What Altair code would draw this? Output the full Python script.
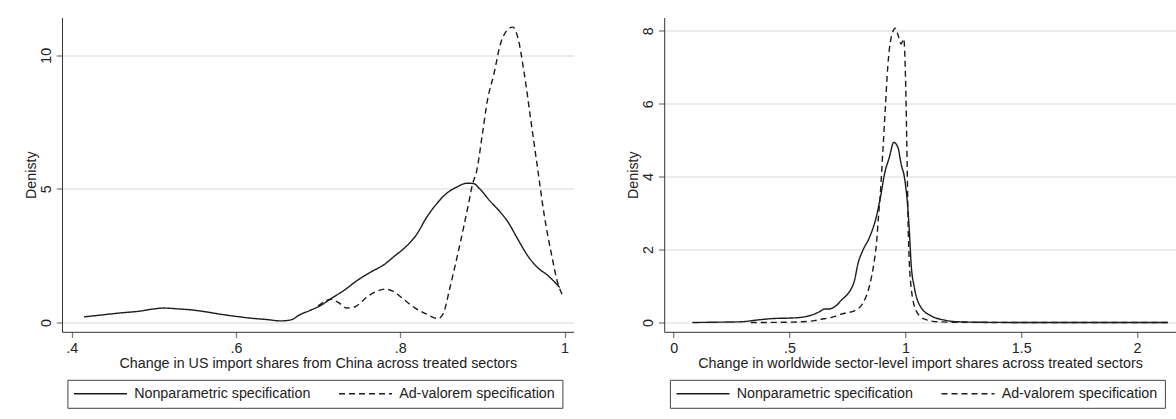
import altair as alt
import pandas as pd

SPECS = ["Nonparametric specification", "Ad-valorem specification"]
Y_TITLE = "Denisty"

# ---- Left panel: change in US import shares from China ----
us_np_x = [0.415, 0.439, 0.460, 0.484, 0.496, 0.512, 0.529, 0.549, 0.561, 0.581,
           0.602, 0.622, 0.638, 0.654, 0.667, 0.677, 0.690, 0.702, 0.718, 0.731,
           0.747, 0.763, 0.781, 0.792, 0.808, 0.820, 0.832, 0.844, 0.856, 0.869,
           0.881, 0.889, 0.897, 0.909, 0.922, 0.930, 0.943, 0.955, 0.967, 0.980, 0.994]
us_np_y = [0.21, 0.29, 0.36, 0.43, 0.49, 0.54, 0.51, 0.46, 0.41, 0.31,
           0.22, 0.15, 0.11, 0.06, 0.10, 0.28, 0.45, 0.62, 0.94, 1.19,
           1.56, 1.87, 2.18, 2.46, 2.87, 3.30, 3.93, 4.43, 4.82, 5.07,
           5.21, 5.20, 4.99, 4.55, 4.12, 3.81, 3.12, 2.50, 2.06, 1.75, 1.31]
us_av_x = [0.700, 0.7165, 0.7245, 0.735, 0.745, 0.759, 0.771, 0.781, 0.7915, 0.804,
           0.818, 0.832, 0.846, 0.852, 0.8605, 0.869, 0.877, 0.883, 0.888, 0.893,
           0.900, 0.906, 0.914, 0.922, 0.930, 0.937, 0.943, 0.951, 0.959, 0.967,
           0.975, 0.984, 0.992, 0.998]
us_av_y = [0.62, 0.87, 0.75, 0.54, 0.59, 0.94, 1.16, 1.25, 1.16, 0.87,
           0.54, 0.31, 0.15, 0.31, 1.31, 2.43, 3.55, 4.43, 5.18, 5.67,
           7.06, 8.30, 9.30, 10.43, 10.93, 11.05, 10.67, 9.30, 7.55, 5.80,
           4.06, 2.56, 1.44, 1.00]
us_x_ticks = [0.4, 0.6, 0.8, 1.0]
us_y_ticks = [0, 5, 10]
us_x_title = "Change in US import shares from China across treated sectors"

# ---- Right panel: change in worldwide sector-level import shares ----
ww_np_x = [0.081, 0.20, 0.29, 0.362, 0.434, 0.492, 0.549, 0.593, 0.607, 0.636,
           0.650, 0.672, 0.686, 0.708, 0.722, 0.751, 0.766, 0.780, 0.795, 0.816,
           0.845, 0.874, 0.895, 0.910, 0.931, 0.950, 0.968, 0.982, 0.996, 1.008,
           1.018, 1.025, 1.039, 1.068, 1.112, 1.169, 1.227, 1.35, 1.6, 1.9, 2.133]
ww_np_y = [0.0, 0.01, 0.02, 0.07, 0.11, 0.12, 0.14, 0.20, 0.23, 0.32,
           0.37, 0.37, 0.40, 0.50, 0.60, 0.78, 0.92, 1.14, 1.60, 1.97,
           2.33, 2.88, 3.52, 4.07, 4.53, 4.94, 4.80, 4.34, 3.98, 3.34,
           2.43, 1.60, 0.96, 0.41, 0.18, 0.066, 0.02, 0.005, 0.0, 0.0, 0.0]
ww_av_x = [0.333, 0.45, 0.549, 0.578, 0.607, 0.636, 0.665, 0.693, 0.722, 0.750,
           0.780, 0.816, 0.845, 0.866, 0.876, 0.884, 0.892, 0.903, 0.913, 0.924,
           0.939, 0.957, 0.970, 0.982, 0.993, 1.003, 1.008, 1.013, 1.025, 1.047,
           1.083, 1.141, 1.25, 1.5, 1.8, 2.133]
ww_av_y = [0.0, 0.005, 0.02, 0.03, 0.05, 0.09, 0.12, 0.16, 0.23, 0.27,
           0.32, 0.52, 1.0, 1.69, 2.2, 2.9, 3.52, 4.71, 5.81, 7.0,
           7.82, 8.07, 7.85, 7.64, 7.78, 6.08, 4.25, 2.43, 0.96, 0.32,
           0.09, 0.02, 0.005, 0.0, 0.0, 0.0]
ww_x_ticks = [0, 0.5, 1, 1.5, 2]
ww_y_ticks = [0, 2, 4, 6, 8]
ww_x_title = "Change in worldwide sector-level import shares across treated sectors"

W = 511.7
H = 314.3
FONT = "Liberation Sans"
FS = 14.3
LABEL_EXPR = "replace(format(datum.value, '~g'), '0.', '.')"
# legend line sample: custom path, 53 px long at symbolSize 100 (scale 5)
SAMPLE_PATH = "M-5.3,0H5.3"


def panel(np_x, np_y, av_x, av_y, xdom, ydom, xticks, yticks, xtitle, legx, anchor=False):
    df = pd.DataFrame({
        "x": np_x + av_x,
        "y": np_y + av_y,
        "spec": [SPECS[0]] * len(np_x) + [SPECS[1]] * len(av_x),
    })
    lines = alt.Chart(df).mark_line(strokeWidth=1.4, interpolate="monotone",
                                    color="#1c1c1c").encode(
        x=alt.X("x:Q",
                scale=alt.Scale(domain=xdom, nice=False, zero=False),
                axis=alt.Axis(values=xticks, title=xtitle, labelExpr=LABEL_EXPR,
                              grid=False, domainColor="#333333", domainWidth=1,
                              tickColor="#808080", tickWidth=1.3, tickSize=5.7,
                              labelFontSize=FS, labelColor="#222222", labelPadding=4,
                              labelFont=FONT, labelFlush=False,
                              titleFontSize=FS, titleColor="#222222", titleFont=FONT,
                              titleFontWeight="normal", titleY=36,
                              titleBaseline="alphabetic")),
        y=alt.Y("y:Q",
                scale=alt.Scale(domain=ydom, nice=False, zero=False),
                axis=alt.Axis(values=yticks, title=Y_TITLE, grid=True,
                              gridColor="#e6e6e6", gridWidth=1.5,
                              domainColor="#333333", domainWidth=1,
                              tickColor="#808080", tickWidth=1.3, tickSize=5.7,
                              labelFontSize=FS, labelColor="#222222", labelFont=FONT,
                              labelAngle=270, labelAlign="center",
                              labelBaseline="alphabetic", labelPadding=5.6,
                              labelFlush=False,
                              titleFontSize=FS, titleColor="#222222", titleFont=FONT,
                              titleFontWeight="normal", titleAngle=270,
                              titleAlign="center", titleBaseline="alphabetic",
                              titleX=-27, titleY=H / 2)),
        strokeDash=alt.StrokeDash(
            "spec:N",
            scale=alt.Scale(domain=SPECS, range=[[1, 0], [6, 4]]),
            legend=alt.Legend(orient="none", legendX=legx, legendY=362.3,
                              direction="horizontal", title=None,
                              strokeColor="#444444", fillColor="white",
                              padding=6.6, symbolType=SAMPLE_PATH, symbolSize=100,
                              symbolOffset=19.35,
                              symbolStrokeWidth=1.4, symbolStrokeColor="#1c1c1c",
                              symbolFillColor="transparent",
                              labelFontSize=FS, labelFont=FONT, labelColor="#222222",
                              labelOffset=26.5, labelLimit=400, columnPadding=25,
                              cornerRadius=0)),
    )
    layers = [lines]
    if anchor:
        anchor_df = pd.DataFrame({"a": [0]})
        layers.insert(0, alt.Chart(anchor_df).mark_rule(color="white", strokeWidth=1).encode(
            x=alt.value(-60.8), y=alt.value(0), y2=alt.value(2)))
    return alt.layer(*layers).properties(width=W, height=H)


left = panel(us_np_x, us_np_y, us_av_x, us_av_y, [0.3882, 1.0111], [-0.348, 11.41],
             us_x_ticks, us_y_ticks, us_x_title, 5.4, anchor=True)
right = panel(ww_np_x, ww_np_y, ww_av_x, ww_av_y, [-0.0406, 2.1675], [-0.255, 8.365],
              ww_x_ticks, ww_y_ticks, ww_x_title, 5.7)

chart = alt.hconcat(left, right, spacing=90.2, bounds="flush").resolve_scale(
    strokeDash="independent"
).resolve_legend(
    strokeDash="independent"
).properties(
    padding={"left": 0, "top": 16.5, "right": 0, "bottom": 0},
    background="white",
).configure_view(stroke=None)

chart.save("out.html", embed_options={"renderer": "svg", "actions": False})
